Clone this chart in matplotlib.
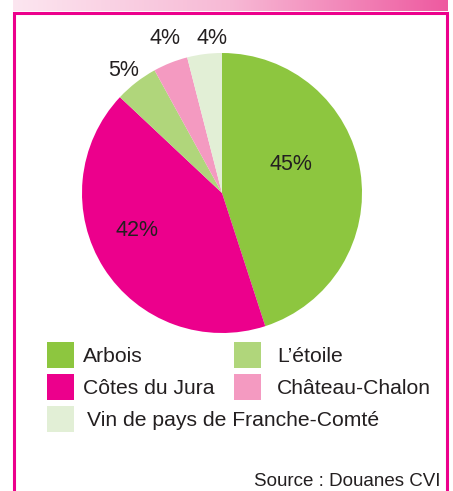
import numpy as np
import matplotlib
matplotlib.use("Agg")
import matplotlib.pyplot as plt
from matplotlib.patches import Rectangle
from matplotlib.colors import LinearSegmentedColormap

plt.rcParams['font.family'] = ['Liberation Sans', 'DejaVu Sans']

# ---- data ----
categories = ["Arbois", "Côtes du Jura", "L’étoile", "Château-Chalon",
              "Vin de pays de Franche-Comté"]
values = [45, 42, 5, 4, 4]
pct_labels = ["45%", "42%", "5%", "4%", "4%"]
colors = ["#8DC63F", "#EC008C", "#B0D67B", "#F49AC1", "#E2EFD6"]
source_text = "Source : Douanes CVI"

# ---- layout (pixel coordinates) ----
W, H = 453, 491
label_pos = [(291, 165), (137, 230), (124, 70), (165, 38), (212, 38)]
legend_order = [0, 2, 1, 3, 4]
legend_box = [(47, 342), (234, 342), (47, 374), (234, 374), (47, 406)]
legend_text = [(83, 357), (277, 357), (83, 389), (277, 389), (87, 421)]
txt_color = "#231F20"

fig = plt.figure(figsize=(W / 100, H / 100), dpi=100)
ax = fig.add_axes([0, 0, 1, 1])

# gradient header bar
grad = np.linspace(0, 1, 256).reshape(1, -1)
cmap = LinearSegmentedColormap.from_list("hdr", ["#FCE6F0", "#F7B9D5", "#EE5AA0"])
ax.imshow(grad, cmap=cmap, extent=[13, 448, 11, 0], aspect='auto', zorder=0)

# frame
ax.plot([14, 14, 446.5, 446.5], [H + 5, 13, 13, H + 5], color="#EC008C",
        lw=2.2, solid_joinstyle='miter', zorder=1)

# pie (y axis inverted -> start at -90, counterclock in data = clockwise on screen)
ax.pie(values, colors=colors, startangle=-90, counterclock=True,
       center=(222, 193), radius=140, wedgeprops=dict(linewidth=0),
       frame=True)

for lab, (x, y) in zip(pct_labels, label_pos):
    ax.text(x, y, lab, fontsize=15.5, color=txt_color, ha='center', va='center')

# legend
for k, i in enumerate(legend_order):
    bx, by = legend_box[k]
    ax.add_patch(Rectangle((bx, by), 27, 26, facecolor=colors[i],
                           edgecolor='none', zorder=3))
    tx, ty = legend_text[k]
    ax.text(tx, ty, categories[i], fontsize=15.2, color=txt_color,
            ha='left', va='center')

ax.text(440, 490, source_text, fontsize=13.5, color=txt_color,
        ha='right', va='bottom')

ax.set_xlim(0, W)
ax.set_ylim(H, 0)
ax.set_aspect('auto')
ax.axis('off')

fig.savefig("out.png", dpi=100)
